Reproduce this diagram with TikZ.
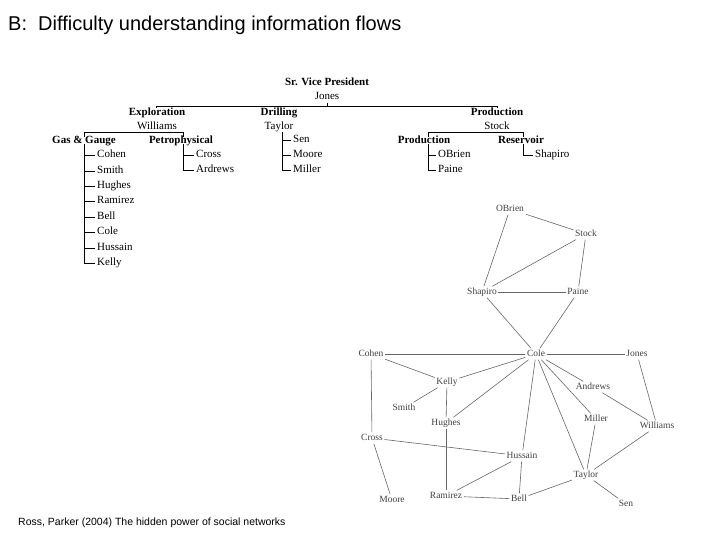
\documentclass[tikz,border=0pt]{standalone}
\usepackage{fontspec}
\setmainfont{Liberation Serif}
\newfontfamily\sansf{Liberation Sans}
\begin{document}
\begin{tikzpicture}[x=1pt,y=-1pt,
  org/.style={font=\fontsize{11}{12}\selectfont,inner sep=0pt,text height=1.4ex,text depth=0.35ex},
  orgb/.style={org,font=\fontsize{11}{12}\selectfont\bfseries},
  it/.style={org,anchor=west},
  nw/.style={font=\fontsize{9.5}{10}\selectfont,text=black!75,inner sep=1.5pt,text height=1.4ex,text depth=0.35ex},
  ed/.style={draw=black!60,line width=0.6pt},
  tr/.style={line width=0.6pt}]
\useasboundingbox (0,0) rectangle (720,540);
\node[anchor=west,font=\sansf\fontsize{20}{22}\selectfont,inner sep=0pt] (title) at (8,25) {B:\ \ Difficulty understanding information flows};
\node[anchor=west,font=\sansf\fontsize{10.5}{12}\selectfont,inner sep=0pt] (cap) at (18,523) {Ross, Parker (2004) The hidden power of social networks};
% org chart
\node[orgb] (svp) at (327,83) {Sr. Vice President};
\node[org] (jones) at (327,97) {Jones};
\node[orgb] (expl) at (157,113) {Exploration};
\node[orgb] (dril) at (279,113) {Drilling};
\node[orgb] (prod) at (497,113) {Production};
\node[org] (will) at (157,127) {Williams};
\node[org] (tayl) at (279,127) {Taylor};
\node[org] (stock) at (497,127) {Stock};
\node[orgb] (gas) at (84,141) {Gas \& Gauge};
\node[orgb] (petro) at (181,141) {Petrophysical};
\node[orgb] (prod2) at (424,141) {Production};
\node[orgb] (res) at (521,141) {Reservoir};
\draw[tr] (156,108) -- (156,106) -- (497,106) -- (497,108);
\draw[tr] (327,103) -- (327,106);
\draw[tr] (84,137) -- (84,132) -- (183,132) -- (183,137);
\draw[tr] (428,137) -- (428,132) -- (523,132) -- (523,137);
\draw[tr] (84,144) -- (84,263);
\foreach \n/\y in {Cohen/155,Smith/171,Hughes/186,Ramirez/201,Bell/217,Cole/232,Hussain/248,Kelly/263}
  {\draw[tr] (84,\y) -- (95,\y); \node[it] (g\n) at (97,\y) {\n};}
\draw[tr] (183,144) -- (183,170);
\foreach \n/\y in {Cross/155,Ardrews/170}
  {\draw[tr] (183,\y) -- (194,\y); \node[it] (p\n) at (196,\y) {\n};}
\draw[tr] (282,132) -- (282,170);
\foreach \n/\y in {Sen/140,Moore/155,Miller/170}
  {\draw[tr] (282,\y) -- (291,\y); \node[it] (d\n) at (293,\y) {\n};}
\draw[tr] (428,144) -- (428,170);
\foreach \n/\y in {OBrien/155,Paine/170}
  {\draw[tr] (428,\y) -- (436,\y); \node[it] (r\n) at (438,\y) {\n};}
\draw[tr] (523,144) -- (523,155) -- (533,155);
\node[it] (rShapiro) at (535,155) {Shapiro};
% network
\foreach \n/\x/\y in {OBrien/510/209,Stock/586/234,Shapiro/482/292,Paine/578/292,Cole/536/354,Cohen/371/354,Jones/637/354,Kelly/447/382,Andrews/593/387,Smith/404/408,Hughes/446/423,Miller/596/419,Williams/657/426,Cross/372/438,Hussain/522/456,Taylor/586/475,Moore/392/500,Ramirez/446/496,Bell/519/499,Sen/626/504}
  \node[nw] (\n) at (\x,\y) {\n};
\foreach \a/\b in {OBrien/Stock,OBrien/Shapiro,Stock/Shapiro,Stock/Paine,Shapiro/Paine,Shapiro/Cole,Paine/Cole,Cohen/Cole,Cole/Jones,Cohen/Kelly,Cole/Kelly,Cole/Hughes,Cole/Hussain,Cole/Taylor,Cole/Andrews,Cole/Miller,Kelly/Smith,Kelly/Hughes,Andrews/Williams,Jones/Williams,Miller/Taylor,Williams/Taylor,Cohen/Cross,Cross/Hussain,Cross/Moore,Hughes/Ramirez,Hussain/Ramirez,Hussain/Bell,Ramirez/Bell,Taylor/Bell,Taylor/Sen}
  \draw[ed] (\a) -- (\b);
\end{tikzpicture}
\end{document}
